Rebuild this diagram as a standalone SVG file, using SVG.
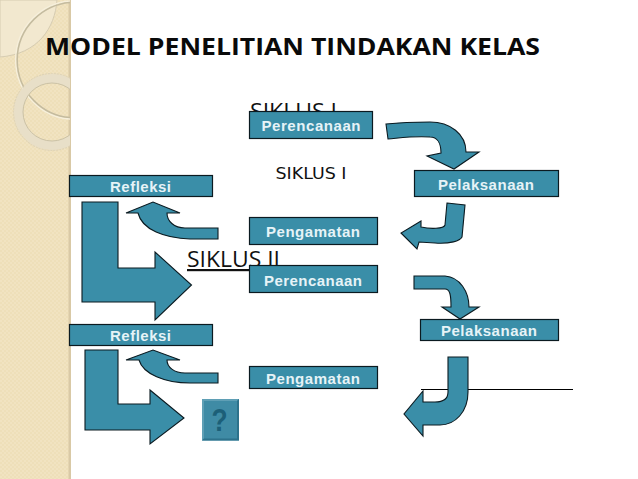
<svg xmlns="http://www.w3.org/2000/svg" width="638" height="479" viewBox="0 0 638 479">
<style>
.box{fill:#3a8ea8;stroke:#0b1a20;stroke-width:1.2}
.lbl{font-family:"Liberation Sans",Arial,sans-serif;font-weight:700;font-size:15px;fill:#e6f3f7;text-anchor:middle}
.arr{fill:#3a8ea8;stroke:#0b1a20;stroke-width:1.1;stroke-linejoin:miter}
.sik{font-family:"Open Sans",sans-serif;font-size:22px;fill:#111;text-decoration:underline}
</style>
<defs>
<pattern id="dots" width="4" height="4" patternUnits="userSpaceOnUse"><rect width="4" height="4" fill="#eedfb9"/><rect width="2" height="2" fill="#f1e3c1"/><rect x="2" y="2" width="2" height="2" fill="#f1e3c1"/></pattern>
<clipPath id="band"><rect width="70" height="479"/></clipPath>
</defs>
<rect width="638" height="479" fill="#fff"/>
<g id="background">
<rect width="70" height="479" fill="url(#dots)"/>
<rect x="68.500" width="2.500" height="479" fill="#d9c9a6"/>
<g clip-path="url(#band)">
<path d="M0 0H57C55 28 38 54 0 57Z" fill="#f2e8cf" stroke="#d6ccb2" stroke-width="1"/>
<circle cx="75" cy="60" r="59.300" fill="none" stroke="#f6efdb" stroke-width="1.500"/>
<circle cx="75" cy="60" r="57.800" fill="none" stroke="#c4bb9f" stroke-width="1.500"/>
<circle cx="52" cy="112" r="33.500" fill="none" stroke="#e8dfc8" stroke-width="9"/>
<circle cx="52" cy="112" r="29" fill="none" stroke="#cbc2a6" stroke-width="1"/>
<circle cx="52" cy="112" r="38.500" fill="none" stroke="#dcd2b8" stroke-width="1" stroke-dasharray="2 1"/>
</g>
</g>
<text id="title" x="45" y="55" font-family="'Open Sans',sans-serif" font-weight="700" font-size="24" fill="#0a0a0a" textLength="495" lengthAdjust="spacingAndGlyphs">MODEL PENELITIAN TINDAKAN KELAS</text>
<text id="siklus1-heading" class="sik" x="250" y="119" textLength="87" lengthAdjust="spacingAndGlyphs">SIKLUS I</text>
<text id="siklus2-heading" class="sik" x="187" y="267" textLength="93" lengthAdjust="spacingAndGlyphs">SIKLUS II</text>
<text id="siklus1-small" x="275.500" y="178.500" font-family="'DejaVu Sans',sans-serif" font-size="16" fill="#111" textLength="71" lengthAdjust="spacingAndGlyphs">SIKLUS I</text>
<line id="stray-line" x1="421" y1="389.500" x2="573" y2="389.500" stroke="#000" stroke-width="1"/>
<g id="connectors">
<path class="arr" d="M386 124C405 122 420 122 430 122C450 122 466 134 466 152L479 152L454 169L427 156L441 153C441 143 437 137 430 137C412 136 400 138 388 139Z"/>
<path class="arr" d="M447 203L465 205L462 237C460 241 450 244 435 243L419 242L417 249L401 233L421 221L421 227C430 229 444 229 445 225Z"/>
<path class="arr" d="M218 228L218 239L190 239C165 238 142 230 138 213L126 213L153 202L180 213L167 213C167 221 174 228 185 228Z"/>
<path class="arr" d="M82 202H118V268H155V252L191.500 285L155 320V302H82Z"/>
<path class="arr" d="M218 373V383H190C165 383 143 374 139 360H126L153 350L180 360H167C167 367 174 373 185 373Z"/>
<path class="arr" d="M85 350H118V404H150V390L184 418L150 444V430H85Z"/>
<path class="arr" d="M414 276H445C460 277 469 292 469 307H479L460 319L442 307H451C451 295 450 289 445 289H414Z"/>
<path class="arr" d="M448 357H468V392C468 412 455 425 440 425H423V436L404 414L423 391V402H435C443 402 448 399 448 392Z"/>
</g>
<g id="perencanaan-1"><rect class="box" x="249.500" y="111.500" width="123" height="27"/><text class="lbl" x="311" y="131" textLength="99">Perencanaan</text></g>
<g id="pelaksanaan-1"><rect class="box" x="414.500" y="170.500" width="144" height="26"/><text class="lbl" x="486" y="190" textLength="96">Pelaksanaan</text></g>
<g id="pengamatan-1"><rect class="box" x="249.500" y="217.500" width="128" height="27"/><text class="lbl" x="313" y="237" textLength="94">Pengamatan</text></g>
<g id="refleksi-1"><rect class="box" x="69.500" y="175.500" width="143" height="21"/><text class="lbl" x="140.500" y="192" textLength="61">Refleksi</text></g>
<g id="perencanaan-2"><rect class="box" x="249.500" y="265.500" width="128" height="27"/><text class="lbl" x="313" y="285.500" textLength="98">Perencanaan</text></g>
<g id="pelaksanaan-2"><rect class="box" x="420.500" y="319.500" width="138" height="21"/><text class="lbl" x="489" y="336" textLength="96">Pelaksanaan</text></g>
<g id="pengamatan-2"><rect class="box" x="249.500" y="366.500" width="128" height="22"/><text class="lbl" x="313" y="384" textLength="94">Pengamatan</text></g>
<g id="refleksi-2"><rect class="box" x="69.500" y="324.500" width="143" height="21"/><text class="lbl" x="140.500" y="340.500" textLength="61">Refleksi</text></g>
<g id="help-button">
<rect x="202" y="399" width="37" height="41.500" fill="#3f8ba5"/>
<path d="M202 399H239L237 401H204V438.500L202 440.500Z" fill="#5f9fb5"/>
<path d="M239 399V440.500H202L204 438.500H237V401Z" fill="#2d728b"/>
<text transform="translate(219.500 431) scale(.85 1)" font-family="'Liberation Sans',sans-serif" font-weight="700" font-size="31" fill="#1c5f78" text-anchor="middle">?</text>
</g>
</svg>
